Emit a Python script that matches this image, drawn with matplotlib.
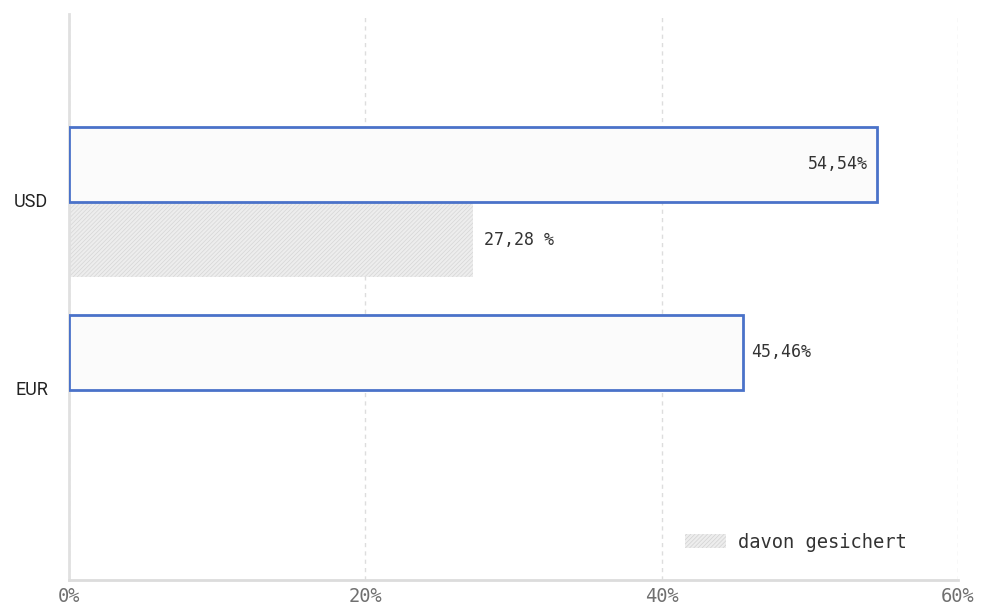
import numpy as np
import matplotlib
matplotlib.use("Agg")
import matplotlib.pyplot as plt

currencies = ["USD", "EUR"]
share = [54.54, 45.46]
hedged = [27.28]
share_labels = ["54,54%", "45,46%"]
hedged_labels = ["27,28 %"]
x_ticks = [0, 20, 40, 60]
x_tick_labels = ["0%", "20%", "40%", "60%"]

plt.rcParams["hatch.color"] = "#d2d2d2"
plt.rcParams["hatch.linewidth"] = 0.5

fig = plt.figure(figsize=(9.94, 6.07), dpi=100)
ax = fig.add_axes([69 / 994, 27 / 607, 889 / 994, 566 / 607])

y = np.arange(len(currencies))
ax.barh(y - 0.19, share, height=0.4, color="#fbfbfb", edgecolor="#4a72c9",
        linewidth=2, zorder=3)
yh = y[:len(hedged)] + 0.21
ax.barh(yh, hedged, height=0.4, color="#ededed", edgecolor="#d6d6d6",
        hatch="////////", linewidth=0, zorder=2)

mono = "DejaVu Sans Mono"
lab = dict(family=mono, fontsize=12, color="#333333", zorder=4, va="center")
# value labels
ax.text(share[0] - 0.65, y[0] - 0.19, share_labels[0], ha="right", **lab)
ax.text(share[1] + 0.6, y[1] - 0.19, share_labels[1], ha="left", **lab)
ax.text(hedged[0] + 0.7, yh[0], hedged_labels[0], ha="left", **lab)

ax.set_xlim(0, 60)
ax.set_ylim(2.02, -0.99)
ax.set_xticks(x_ticks)
ax.set_xticklabels(x_tick_labels, family=mono, fontsize=13.5, color="#707070")
ax.set_yticks(y + 0.0)
ax.set_yticklabels(currencies, fontsize=13, color="#222222", family="Roboto")
ax.tick_params(length=0)
ax.tick_params(axis="x", pad=5)
ax.tick_params(axis="y", pad=15)

ax.grid(axis="x", color="#dddddd", linestyle=(0, (3, 3)), linewidth=1, zorder=0)
for s in ["top", "right"]:
    ax.spines[s].set_visible(False)
ax.spines["left"].set_color("#e0e0e0")
ax.spines["left"].set_linewidth(2)
ax.spines["bottom"].set_color("#dcdcdc")
ax.spines["bottom"].set_linewidth(2)

leg = ax.legend([plt.Rectangle((0, 0), 1, 1, facecolor="#ededed", hatch="////////",
                               linewidth=0)],
                ["davon gesichert"], loc="lower right", frameon=False,
                prop={"family": mono, "size": 13.5}, handlelength=2.2,
                handleheight=0.8, bbox_to_anchor=(0.961, 0.02), handletextpad=0.6)
for t in leg.get_texts():
    t.set_color("#333333")

fig.savefig("out.png", dpi=100)
